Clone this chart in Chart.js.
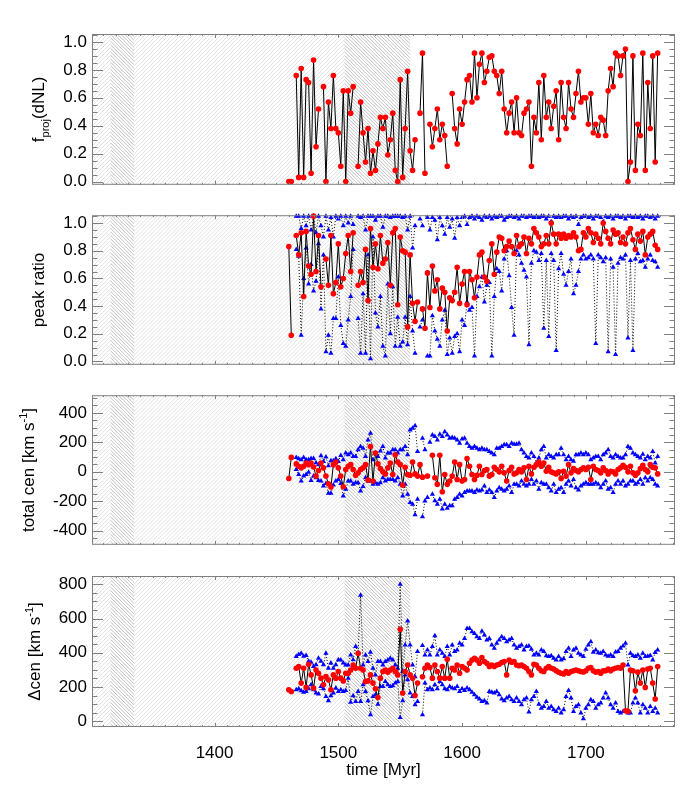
<!DOCTYPE html>
<html>
<head>
<meta charset="utf-8">
<script src="https://cdn.jsdelivr.net/npm/chart.js@4.4.0/dist/chart.umd.min.js"></script>
<style>
  html, body { margin: 0; padding: 0; background: #fff; }
  #wrap { position: relative; width: 700px; height: 800px; }
  #wrap canvas { position: absolute; left: 0; }
</style>
</head>
<body>
<div id="wrap">
  <canvas id="c1" width="700" height="200" style="top:0px"></canvas>
  <canvas id="c2" width="700" height="180" style="top:200px"></canvas>
  <canvas id="c3" width="700" height="180" style="top:380px"></canvas>
  <canvas id="c4" width="700" height="240" style="top:560px"></canvas>
</div>
<script>
// time of each snapshot [Myr]
const time = [
  1460, 1462, 1464, 1466, 1468, 1470, 1472, 1474, 1476, 1478,
  1480, 1482, 1484, 1486, 1488, 1490, 1492, 1494, 1496, 1498,
  1500, 1502, 1504, 1506, 1508, 1510, 1512, 1514, 1516, 1518,
  1520, 1522, 1524, 1526, 1528, 1530, 1532, 1534, 1536, 1538,
  1540, 1542, 1544, 1546, 1548, 1550, 1552, 1554, 1556, 1558,
  1560, 1562, 1564, 1566, 1568, 1570, 1572, 1574, 1576, 1578,
  1580, 1582, 1584, 1586, 1588, 1590, 1592, 1594, 1596, 1598,
  1600, 1602, 1604, 1606, 1608, 1610, 1612, 1614, 1616, 1618,
  1620, 1622, 1624, 1626, 1628, 1630, 1632, 1634, 1636, 1638,
  1640, 1642, 1644, 1646, 1648, 1650, 1652, 1654, 1656, 1658,
  1660, 1662, 1664, 1666, 1668, 1670, 1672, 1674, 1676, 1678,
  1680, 1682, 1684, 1686, 1688, 1690, 1692, 1694, 1696, 1698,
  1700, 1702, 1704, 1706, 1708, 1710, 1712, 1714, 1716, 1718,
  1720, 1722, 1724, 1726, 1728, 1730, 1732, 1734, 1736, 1738,
  1740, 1742, 1744, 1746, 1748, 1750, 1752, 1754, 1756, 1758
];

// panel 1: f_proj(dNL)
const fproj = [
  0.0, 0.0, null, 0.76, 0.03, 0.81, 0.03, 0.73, 0.71, 0.06,
  0.87, 0.25, 0.52, null, 0.68, 0.0, 0.57, 0.38, 0.76, 0.38,
  0.35, 0.11, 0.65, 0.0, 0.65, 0.49, 0.68, null, 0.11, 0.57,
  0.35, 0.14, 0.38, 0.06, 0.22, 0.08, 0.27, 0.46, 0.38, 0.46,
  0.19, 0.30, 0.49, 0.08, 0.0, 0.73, 0.03, 0.38, 0.79, 0.22,
  0.08, 0.30, null, 0.49, 0.92, 0.06, null, 0.41, 0.25, 0.38,
  0.52, 0.30, 0.41, 0.33, 0.11, null, 0.63, 0.38, 0.27, 0.52,
  0.41, 0.57, 0.73, 0.76, 0.57, 0.92, 0.60, 0.84, 0.92, 0.71,
  0.79, 0.89, 0.90, 0.79, 0.76, 0.63, 0.79, 0.52, 0.35, 0.49,
  0.57, 0.35, 0.60, 0.35, 0.33, 0.49, 0.52, 0.57, 0.11, 0.46,
  0.35, 0.71, 0.30, 0.76, 0.46, 0.57, 0.38, 0.54, 0.65, 0.30,
  0.71, 0.46, 0.38, 0.71, 0.52, 0.46, 0.63, 0.79, 0.57, 0.60,
  0.60, 0.41, 0.63, 0.35, 0.41, 0.33, 0.46, 0.44, 0.33, 0.65,
  0.81, 0.68, 0.92, 0.90, 0.76, 0.90, 0.95, 0.0, 0.14, 0.90,
  0.08, 0.41, 0.33, 0.92, 0.08, 0.71, 0.38, 0.90, 0.14, 0.92
];

// panel 2: peak ratio (red = mean, blue = upper / lower)
const peakRatio = [
  0.83, 0.19, null, 0.91, 0.77, 0.93, 0.47, 0.94, 0.69, 0.63,
  1.05, 0.65, 0.91, 0.54, null, 0.74, 0.55, 0.91, 0.49, 0.57,
  0.85, 0.54, 0.60, 0.78, 0.91, 0.65, 0.93, null, 0.55, 0.65,
  0.57, 0.81, 0.44, 0.96, 0.68, 0.85, 0.67, 0.91, 0.71, 0.74,
  0.86, 0.55, 0.93, 0.96, 0.41, 0.90, 0.80, 0.79, 0.25, 0.77,
  0.42, 0.29, 0.43, null, 0.38, 0.24, 0.64, 0.39, 0.69, 0.51,
  0.59, 0.38, 0.53, 0.50, 0.22, 0.46, 0.44, 0.50, 0.68, 0.42,
  0.56, 0.65, 0.41, 0.65, 0.59, 0.46, 0.61, 0.77, 0.79, 0.61,
  0.58, 0.73, 0.85, 0.63, 0.79, 0.90, 0.89, 0.80, 0.83, 0.87,
  0.83, 0.78, 0.91, 0.83, 0.85, 0.90, 0.78, 0.89, 0.85, 0.96,
  0.93, 0.90, 0.83, 0.85, 0.91, 0.85, 1.00, 0.92, 0.85, 0.92,
  0.89, 0.92, 0.89, 0.91, 0.90, 0.93, 0.90, 0.80, 0.81, 0.93,
  0.90, 0.96, 0.93, 0.86, 0.92, 0.89, 0.85, 1.00, 0.94, 0.89,
  0.85, 0.95, 0.92, 0.93, 0.86, 0.90, 0.85, 0.93, 0.96, 0.88,
  0.81, 0.92, 0.87, 0.94, 0.77, 0.90, 0.92, 0.94, 0.84, 0.81
];
const peakHi = [
  null, null, null, 1.05, 1.05, 0.96, 1.05, 0.98, 1.05, 0.95,
  1.05, 0.93, 1.05, 0.98, 0.90, 1.05, 0.95, 1.04, 0.90, 1.05,
  1.03, 1.05, 0.98, 1.05, 1.00, 1.05, 0.99, null, 1.05, 1.04,
  1.05, 0.95, 1.05, 1.05, 1.05, 1.02, 1.05, 1.05, 0.97, 1.05,
  1.05, 1.04, 1.05, 1.05, 1.05, 1.05, 1.04, 1.05, 0.95, 1.05,
  0.82, 0.98, null, 1.03, 0.98, null, 1.04, 0.95, 1.04, 1.02,
  0.88, 1.04, 0.98, 0.92, 1.04, 0.97, 1.03, 0.89, 1.04, 0.98,
  1.04, 1.05, 0.99, 1.04, 1.05, 1.03, 1.05, 1.04, 1.02, 1.05,
  1.04, 1.05, 1.03, 1.05, 1.04, 1.05, 1.05, 1.02, 1.04, 1.05,
  1.05, 1.04, 1.05, 1.03, 1.05, 1.05, 1.04, 1.05, 1.05, 1.04,
  1.05, 1.04, 1.05, 1.05, 1.03, 1.05, 1.01, 1.05, 1.04, 1.05,
  1.04, 1.05, 1.05, 1.03, 1.05, 1.04, 1.05, 0.99, 1.04, 1.05,
  1.05, 1.04, 1.05, 1.03, 1.05, 1.05, 1.04, 1.01, 1.05, 1.04,
  1.05, 1.03, 1.05, 1.05, 1.04, 1.05, 1.03, 1.05, 1.05, 1.04,
  1.05, 1.04, 1.05, 1.03, 1.05, 1.05, 1.04, 1.05, 1.03, 1.05
];
const peakLo = [
  null, null, null, 0.81, 0.76, 0.19, 0.60, 0.82, 0.56, 0.70,
  0.51, 0.58, 0.85, 0.38, 0.77, 0.07, 0.19, 0.06, 0.31, 0.31,
  0.61, 0.26, 0.13, 0.11, 0.30, 0.47, 0.81, null, 0.31, 0.06,
  0.49, 0.06, 0.77, 0.02, 0.90, 0.35, 0.25, 0.47, 0.11, 0.04,
  0.56, 0.20, 0.54, 0.11, 0.32, 0.11, 0.14, 0.32, 0.12, 0.47,
  0.22, 0.06, null, 0.25, 0.30, null, 0.04, 0.04, 0.33, 0.22,
  0.16, 0.11, 0.30, 0.37, 0.05, 0.17, 0.06, 0.18, 0.20, 0.07,
  0.30, 0.26, 0.43, 0.37, 0.39, 0.04, 0.47, 0.54, 0.61, 0.43,
  0.55, 0.57, 0.04, 0.47, 0.67, 0.65, 0.51, 0.74, 0.80, 0.62,
  0.39, 0.19, 0.80, 0.77, 0.71, 0.66, 0.61, 0.12, 0.71, 0.80,
  0.79, 0.73, 0.78, 0.24, 0.73, 0.18, 0.78, 0.73, 0.08, 0.67,
  0.78, 0.63, 0.55, 0.65, 0.74, 0.49, 0.55, 0.65, 0.74, 0.77,
  0.74, 0.75, 0.77, 0.74, 0.13, 0.77, 0.75, 0.72, 0.75, 0.07,
  0.74, 0.68, 0.05, 0.71, 0.75, 0.74, 0.77, 0.17, 0.73, 0.08,
  0.74, 0.78, 0.72, 0.73, 0.68, 0.74, 0.77, 0.73, 0.72, 0.68
];

// panel 3: total centroid velocity [km/s]
const cenTot = [
  -46, 97, null, 53, 37, 26, 37, 59, 48, 59,
  32, -30, 8, 59, 26, -30, -82, -104, 48, 66,
  26, -30, -102, 15, 37, 48, 15, -24, -8, 15,
  26, 48, -57, 171, -64, 127, 53, 21, -1, -15,
  26, 59, -19, 115, 66, 48, -91, 30, -19, -24,
  66, -15, -30, 48, -37, null, -30, null, 111, -41,
  -86, 111, -136, -19, -86, -64, -30, 66, -53, 48,
  -64, -53, 89, 37, -19, -53, -24, 37, -19, 8,
  15, -30, -19, 30, 15, -1, 37, -8, -64, 8,
  30, -15, -8, 15, -1, 26, -53, 37, -15, 30,
  48, 66, 37, 59, 3, 30, -1, -8, -15, -1,
  -46, 3, -30, 48, -8, 21, 8, -1, 15, 26,
  15, 30, -53, 37, 15, 8, -8, 26, 8, -15,
  3, -1, -15, 15, 26, 44, 30, -1, 37, -8,
  -24, -8, 21, 44, 15, -1, 48, 30, 26, -15
];
const cenTotHi = [
  null, null, null, 97, 88, 82, 97, 82, 82, 90,
  90, 60, 48, 108, 70, 100, 40, 75, 75, 88,
  70, 110, 82, 127, 115, 127, 104, 104, 149, 171,
  160, 104, 216, 261, 82, 127, 104, 140, 171, 93,
  127, 127, 149, 149, 127, 149, 149, 171, 115, 283,
  295, 312, 138, null, 227, 149, null, 200, 250, 240,
  216, 255, 240, 272, 250, 227, 232, 227, 215, 194,
  222, 227, 194, 171, 160, 171, 160, 149, 160, 149,
  149, 138, 127, 115, 160, 160, 171, 183, 183, 171,
  194, 186, 186, 194, 149, 127, 104, 93, 127, 104,
  59, 93, 149, 171, 93, 115, 104, 93, 115, 115,
  160, 115, 82, 104, 82, 71, 115, 115, 127, 115,
  127, 115, 82, 93, 104, 104, 82, 115, 127, 149,
  104, 93, 115, 104, 93, 93, 115, 171, 160, 127,
  115, 104, 93, 118, 82, 104, 93, 138, 59, 104
];
const cenTotLo = [
  null, null, null, 15, -19, -64, -30, -19, -3, -60,
  -30, -41, -60, -64, -97, -80, -147, -147, -90, -64,
  -53, -80, -165, -120, -64, -64, -86, -75, -75, -131,
  -100, -41, -64, -64, -86, -75, -86, -75, -41, -64,
  -53, -53, -53, -64, -41, -86, -165, -86, -154, -210,
  -221, -292, -187, null, -306, -200, -176, null, -154, -198,
  -221, -187, -254, -221, -248, -232, -232, -187, -176, -154,
  -165, -142, -131, -131, -131, -142, -125, -131, -125, -97,
  -142, -125, -142, -176, -131, -109, -120, -131, -120, -97,
  -142, -86, -86, -97, -64, -86, -97, -86, -53, -86,
  -64, -120, -75, -86, -86, -109, -131, -86, -142, -120,
  -109, -142, -86, -64, -97, -53, -109, -125, -97, -86,
  -75, -86, -86, -86, -75, -86, -109, -86, -64, -120,
  -109, -142, -86, -64, -86, -64, -97, -86, -64, -64,
  -86, -75, -53, -86, -41, -64, -41, -53, -86, -97
];

// panel 4: centroid separation [km/s]
const dCen = [
  184, 174, null, 310, 320, 223, 310, 198, 333, 271,
  194, 300, 281, 252, 213, 261, 242, 184, 271, 252,
  291, 252, 236, 281, 281, 300, 329, 310, 397, 310,
  300, 232, 236, 271, 223, 190, 139, 252, 291, 300,
  286, 300, 310, 291, 271, 537, 165, 291, 329, 271,
  252, 151, 223, null, 260, 310, 329, 314, 252, 329,
  291, 252, 320, 252, 362, 252, 310, 300, 329, 281,
  320, 310, 300, 339, 358, 368, 358, 339, 372, 349,
  339, 320, 329, 320, 329, 333, 343, 349, 271, 358,
  345, 349, 329, 325, 329, 320, 310, 291, 271, 333,
  329, 310, 295, 291, 310, 320, 310, 305, 295, 286,
  281, 276, 291, 281, 291, 295, 300, 295, 291, 288,
  295, 310, 314, 295, 286, 291, 281, 295, 295, 305,
  295, 305, 310, 314, 310, 329, 62, 58, 300, 295,
  178, 287, 223, 300, 198, 305, 310, 223, 130, 320
];
const dCenHi = [
  null, null, null, 378, 390, 397, 380, 384, 350, 345,
  320, 330, 368, 350, 330, 397, 310, 340, 310, 330,
  360, 358, 340, 329, 329, 387, 360, 436, 400, 736,
  329, 387, 349, 403, 310, 271, 349, 349, 329, 349,
  358, 368, 358, 329, 310, 800, 291, 446, 585, 446,
  329, 260, 407, null, 442, 387, 416, 387, 436, 500,
  387, 416, 397, 378, 436, 387, 446, 407, 416, 455,
  446, 484, 542, 542, 523, 513, 494, 484, 526, 504,
  475, 484, 446, 426, 455, 475, 494, 484, 465, 475,
  484, 446, 426, 436, 446, 416, 436, 440, 420, 387,
  397, 387, 416, 407, 382, 378, 382, 368, 358, 378,
  358, 365, 407, 426, 378, 416, 426, 397, 387, 378,
  420, 446, 465, 403, 416, 400, 397, 407, 387, 380,
  387, 378, 404, 407, 426, 440, 455, 329, 397, 382,
  378, 387, 368, 397, 378, 380, 384, 358, 402, 416
];
const dCenLo = [
  null, null, null, 184, 190, 178, 170, 174, 190, 213,
  184, 165, 160, 203, 190, 145, 120, 150, 165, 194,
  174, 184, 174, 180, 252, 112, 150, 116, 174, 116,
  213, 174, 120, 39, 145, 155, 100, 203, 203, 232,
  213, 203, 208, 223, 232, 23, 120, 271, 242, 165,
  145, 97, 116, null, 39, 223, 184, 194, 184, 213,
  190, 232, 213, 190, 184, 203, 194, 190, 203, 174,
  190, 180, 194, 184, 170, 155, 140, 130, 116, 120,
  107, 174, 170, 165, 174, 155, 130, 120, 136, 145,
  126, 116, 136, 116, 97, 126, 136, 54, 126, 145,
  174, 100, 77, 87, 116, 77, 87, 68, 58, 77,
  48, 68, 145, 180, 136, 58, 87, 97, 48, 15,
  77, 97, 126, 116, 77, 97, 107, 136, 165, 136,
  97, 77, 107, 58, 48, 58, 58, 48, 48, 107,
  136, 107, 48, 97, 77, 48, 87, 58, 77, 48
];

const timeTicks = [1400, 1500, 1600, 1700];
const fTicks = [0, 0.2, 0.4, 0.6, 0.8, 1.0];
const ratioTicks = [0, 0.2, 0.4, 0.6, 0.8, 1.0];
const cenTicks = [-400, -200, 0, 200, 400];
const dcenTicks = [0, 200, 400, 600, 800];

// shaded time intervals
const lightHatch = [[1300, 1316], [1335, 1505]];
const denseHatch = [[1316, 1335], [1505, 1558]];

Chart.defaults.font.family = "'Liberation Sans', Arial, Helvetica, sans-serif";
Chart.defaults.font.size = 17;
Chart.defaults.color = '#000';

const AXIS = '#808080';

const titles = {
  c1: { x: 44, parts: [['f', 0], ['proj', 1], ['(dNL)', 0]] },
  c2: { x: 44, parts: [['peak ratio', 0]] },
  c3: { x: 34, parts: [['total cen [km s', 0], ['-1', 2], [']', 0]] },
  c4: { x: 40, parts: [['\u0394cen [km s', 0], ['-1', 2], [']', 0]] }
};

const pts = vals => time.map((t, i) => ({ x: t, y: vals[i] }));

function hatch(ctx, x0, x1, top, bottom, dir, color, gap) {
  ctx.save();
  ctx.beginPath();
  ctx.rect(x0, top, x1 - x0, bottom - top);
  ctx.clip();
  ctx.strokeStyle = color;
  ctx.lineWidth = 0.9;
  ctx.beginPath();
  const h = bottom - top;
  for (let s = x0 - h - gap; s < x1 + h + gap; s += gap) {
    if (dir > 0) { ctx.moveTo(s, bottom); ctx.lineTo(s + h, top); }
    else { ctx.moveTo(s, top); ctx.lineTo(s + h, bottom); }
  }
  ctx.stroke();
  ctx.restore();
}

function seg(ctx, x0, y0, x1, y1) { ctx.moveTo(x0, y0); ctx.lineTo(x1, y1); }

const decor = {
  id: 'decor',
  beforeDatasetsDraw(chart) {
    const { ctx, chartArea: a, scales: { x } } = chart;
    const px = v => Math.max(a.left, Math.min(a.right, x.getPixelForValue(v)));
    lightHatch.forEach(r => hatch(ctx, px(r[0]), px(r[1]), a.top, a.bottom, 1, '#e0e0e0', 4));
    denseHatch.forEach(r => hatch(ctx, px(r[0]), px(r[1]), a.top, a.bottom, -1, '#b9b9b9', 3.5));
  },
  afterDatasetsDraw(chart) {
    const { ctx, chartArea: a, scales: { x, y } } = chart;
    ctx.save();
    ctx.strokeStyle = AXIS;
    ctx.lineWidth = 1;
    ctx.strokeRect(a.left + 0.5, a.top + 0.5, a.width - 1, a.height - 1);
    ctx.beginPath();
    // y ticks: majors at labels, 3 minors in between
    const maj = y.ticks.map(t => t.value);
    const step = maj[1] - maj[0], minor = step / 4;
    const k0 = Math.ceil(y.min / minor), k1 = Math.floor(y.max / minor);
    for (let k = k0; k <= k1; k++) {
      const py = Math.round(y.getPixelForValue(k * minor)) + 0.5;
      const L = k % 4 === 0 ? 11 : 5.5;
      seg(ctx, a.left, py, a.left + L, py);
      seg(ctx, a.right, py, a.right - L, py);
    }
    // x ticks every 10 Myr, majors every 100
    for (let t = Math.ceil(x.min / 10); t <= Math.floor(x.max / 10); t++) {
      const pxx = Math.round(x.getPixelForValue(t * 10)) + 0.5;
      const L = t % 10 === 0 ? 4 : 2;
      seg(ctx, pxx, a.bottom, pxx, a.bottom - L);
      seg(ctx, pxx, a.top, pxx, a.top + L);
    }
    ctx.stroke();
    ctx.restore();
  },
  afterDraw(chart) {
    const { ctx, chartArea: a } = chart;
    const tt = titles[chart.canvas.id];
    ctx.save();
    ctx.fillStyle = '#000';
    ctx.textBaseline = 'alphabetic';
    ctx.translate(tt.x, (a.top + a.bottom) / 2);
    ctx.rotate(-Math.PI / 2);
    const fam = Chart.defaults.font.family;
    const fontOf = p => (p[1] ? '11px ' : '17px ') + fam;
    let w = 0;
    tt.parts.forEach(p => { ctx.font = fontOf(p); w += ctx.measureText(p[0]).width; });
    let cx = -w / 2;
    tt.parts.forEach(p => {
      ctx.font = fontOf(p);
      const dy = p[1] === 1 ? 5 : p[1] === 2 ? -7 : 0;
      ctx.fillText(p[0], cx, dy);
      cx += ctx.measureText(p[0]).width;
    });
    ctx.restore();
    if (chart.canvas.id === 'c4') {
      ctx.save();
      ctx.fillStyle = '#000';
      ctx.font = '17px ' + fam;
      ctx.textAlign = 'center';
      ctx.textBaseline = 'alphabetic';
      ctx.fillText('time [Myr]', (a.left + a.right) / 2, 214.5);
      ctx.restore();
    }
  }
};
Chart.register(decor);

function redSet(vals) {
  return {
    data: pts(vals), order: 0, clip: false, spanGaps: false, tension: 0,
    borderColor: '#000', borderWidth: 1,
    pointStyle: 'circle', pointRadius: 2.8, pointBorderWidth: 0,
    pointBackgroundColor: '#ff0000', pointBorderColor: '#ff0000'
  };
}
function blueSet(vals) {
  return {
    data: pts(vals), order: 1, clip: false, spanGaps: false, tension: 0,
    borderColor: '#000', borderWidth: 1, borderDash: [1, 2],
    pointStyle: 'triangle', pointRadius: 3, pointBorderWidth: 0,
    pointBackgroundColor: '#0000ff', pointBorderColor: '#0000ff'
  };
}

function makePanel(id, sets, yMin, yMax, yTicks, fmt, padTop, padBottom, bottom) {
  const xScale = {
    type: 'linear', min: 1301, max: 1772, display: bottom,
    grid: { display: false, drawTicks: false },
    border: { display: false },
    ticks: { padding: 16, maxRotation: 0, autoSkip: false, callback: v => String(v) },
    afterBuildTicks: s => { s.ticks = timeTicks.map(v => ({ value: v })); }
  };
  if (bottom) xScale.afterFit = s => { s.height = 73; };
  return new Chart(document.getElementById(id), {
    type: 'line',
    data: { datasets: sets },
    options: {
      responsive: false,
      animation: false,
      events: [],
      layout: { padding: { top: padTop, bottom: padBottom, left: 0, right: 25 } },
      plugins: { legend: { display: false }, tooltip: { enabled: false } },
      scales: {
        x: xScale,
        y: {
          type: 'linear', min: yMin, max: yMax,
          grid: { display: false, drawTicks: false },
          border: { display: false },
          ticks: { padding: 5, callback: fmt },
          afterBuildTicks: s => { s.ticks = yTicks.map(v => ({ value: v })); },
          afterFit: s => { s.width = 92; }
        }
      }
    }
  });
}

const one = v => Number(v).toFixed(1);
const int = v => String(Math.round(v));

makePanel('c1', [redSet(fproj)], -0.023, 1.057, fTicks, one, 34, 15, false);
makePanel('c2', [redSet(peakRatio), blueSet(peakHi), blueSet(peakLo)], -0.024, 1.057, ratioTicks, one, 14, 15, false);
makePanel('c3', [redSet(cenTot), blueSet(cenTotHi), blueSet(cenTotLo)], -497, 520, cenTicks, int, 15, 13, false);
makePanel('c4', [redSet(dCen), blueSet(dCenHi), blueSet(dCenLo)], -33, 848, dcenTicks, int, 16, 0, true);
</script>
</body>
</html>
